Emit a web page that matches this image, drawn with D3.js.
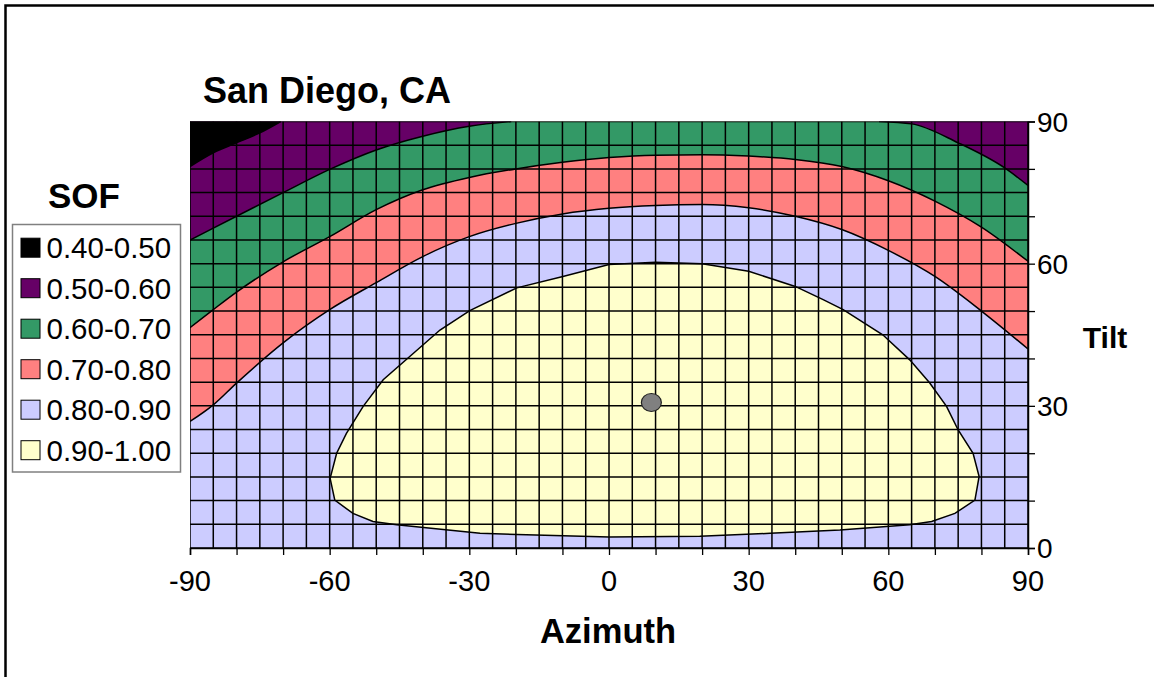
<!DOCTYPE html>
<html>
<head>
<meta charset="utf-8">
<script src="https://cdn.jsdelivr.net/npm/d3@7/dist/d3.min.js"></script>
<style>
  html, body { margin: 0; padding: 0; background: #fff; }
  svg { display: block; font-family: "Liberation Sans", Arial, sans-serif; }
</style>
</head>
<body>
<svg id="chart" width="1154" height="677"></svg>
<script>
// ---------- DATA ----------
const title = "San Diego, CA";
const legendTitle = "SOF";
const levels = ["0.40-0.50", "0.50-0.60", "0.60-0.70", "0.70-0.80", "0.80-0.90", "0.90-1.00"];
const levelColors = ["#000000", "#660066", "#339966", "#FF8080", "#CCCCFF", "#FFFFCC"];
const xTicks = [-90, -60, -30, 0, 30, 60, 90];
const yTicks = [0, 30, 60, 90];

// contour boundary SOF = 0.5 (black above)
const b05Az   = [-90, -85, -80, -75, -70.5];
const b05Tilt = [80.5, 83.4, 85.5, 87.6, 90];
// contour boundary SOF = 0.6 (purple above) – left piece and right piece
const b06LAz   = [-90, -80, -70, -60, -50, -40, -30, -21];
const b06LTilt = [65, 70, 75, 79.9, 84, 86.9, 89, 90];
const b06RAz   = [58, 65, 75, 85, 90];
const b06RTilt = [90, 89.5, 85.5, 80.2, 76.5];
// contour boundary SOF = 0.7 (green above)
const b07Az   = [-90, -85, -80, -70, -60, -50, -40, -30, -20, -10, 0, 10, 20, 30, 40, 50, 60, 70, 80, 90];
const b07Tilt = [46.5, 50.3, 54, 60.4, 65.7, 71.4, 75.6, 78.2, 80, 81.4, 82.4, 82.9, 83, 82.7, 82, 80.5, 77.5, 73.2, 67.7, 60.5];
// contour boundary SOF = 0.8 (red above)
const b08Az   = [-90, -85, -80, -70, -60, -50, -40, -30, -20, -10, 0, 10, 20, 30, 40, 50, 60, 70, 80, 90];
const b08Tilt = [26.7, 30.2, 34.8, 43.3, 50.3, 56, 61.5, 65.7, 68.5, 70.5, 71.7, 72.3, 72.5, 71.8, 70, 67.2, 62.8, 57.3, 50, 42];
// closed contour SOF = 0.9 (yellow inside)
const b09Az   = [-59.9, -58.5, -56.4, -52.8, -48.5, -42, -36.3, -29.9, -19.8, -9.9, 0, 10, 20, 30, 40, 46, 50.3, 58.8, 64.6, 68.9, 72.5, 75, 78.2, 79.5, 78.6, 74.3, 69.3, 64.6, 49.6, 34.6, 19.5, 0, -27.7, -45.6, -50.7, -55, -58.9];
const b09Tilt = [14.7, 20, 24.2, 29.9, 35.5, 41.1, 46, 50.1, 54.9, 57.3, 59.8, 60.3, 60, 58.4, 55.2, 52.4, 50.3, 45, 39.7, 34.8, 29.9, 24.9, 20, 15.1, 10.1, 7.3, 5.6, 4.9, 3.8, 3.1, 2.5, 2.3, 3.1, 4.9, 5.6, 7.3, 10.1];
// marked optimum point
const dotAz = [9.1];
const dotTilt = [30.7];

// ---------- LAYOUT ----------
const svg = d3.select("#chart");
const L = 190, R = 1028, T = 121.5, B = 548;
const x = d3.scaleLinear().domain([-90, 90]).range([L, R]);
const y = d3.scaleLinear().domain([0, 90]).range([B, T]);

// outer frame (only top & left visible in the reference)
svg.append("path").attr("d", `M5.5,700 L5.5,5.5 L1160,5.5`)
  .attr("fill", "none").attr("stroke", "#000").attr("stroke-width", 2.5);

svg.append("defs").append("clipPath").attr("id", "plotclip")
  .append("rect").attr("x", L).attr("y", T).attr("width", R - L).attr("height", B - T);

const plot = svg.append("g").attr("clip-path", "url(#plotclip)");

const zip = (a, b) => a.map((v, i) => [v, b[i]]);

// base: 0.80-0.90
plot.append("rect").attr("x", L).attr("y", T).attr("width", R - L).attr("height", B - T)
  .attr("fill", levelColors[4]);

const topArea = d3.area().x(d => x(d[0])).y0(y(90) - 2).y1(d => y(d[1])).curve(d3.curveMonotoneX);
const line = d3.line().x(d => x(d[0])).y(d => y(d[1])).curve(d3.curveMonotoneX);

const bands = [
  { pts: zip(b08Az, b08Tilt), color: levelColors[3] },
  { pts: zip(b07Az, b07Tilt), color: levelColors[2] },
  { pts: zip(b06LAz, b06LTilt), color: levelColors[1] },
  { pts: zip(b06RAz, b06RTilt), color: levelColors[1] },
  { pts: zip(b05Az, b05Tilt), color: levelColors[0] },
];
bands.forEach(b => {
  plot.append("path").attr("d", topArea(b.pts)).attr("fill", b.color);
});
// yellow closed region
const closedLine = d3.line().x(d => x(d[0])).y(d => y(d[1])).curve(d3.curveLinearClosed);
const yPts = zip(b09Az, b09Tilt);
plot.append("path").attr("d", closedLine(yPts)).attr("fill", levelColors[5]);

// grid (every 5 degrees)
const gx = d3.range(-90, 91, 5), gy = d3.range(0, 91, 5);
plot.selectAll("line.gv").data(gx).join("line")
  .attr("x1", d => x(d)).attr("x2", d => x(d)).attr("y1", T).attr("y2", B)
  .attr("stroke", "#000").attr("stroke-width", 1.5);
plot.selectAll("line.gh").data(gy).join("line")
  .attr("y1", d => y(d)).attr("y2", d => y(d)).attr("x1", L).attr("x2", R)
  .attr("stroke", "#000").attr("stroke-width", 1.5);

// contour lines
bands.forEach(b => {
  plot.append("path").attr("d", line(b.pts)).attr("fill", "none")
    .attr("stroke", "#000").attr("stroke-width", 1.5);
});
plot.append("path").attr("d", closedLine(yPts)).attr("fill", "none")
  .attr("stroke", "#000").attr("stroke-width", 1.5);

// bottom axis
const xAxis = d3.axisBottom(x).tickValues(d3.range(-90, 91, 10)).tickSize(7).tickFormat("");
const gxa = svg.append("g").attr("transform", `translate(0,${B})`).call(xAxis);
gxa.select(".domain").attr("stroke", "#000").attr("stroke-width", 1.5);
gxa.selectAll(".tick line").attr("stroke", "#000").attr("stroke-width", 1.3);
svg.selectAll("text.xl").data(xTicks).join("text")
  .attr("x", d => x(d)).attr("y", 591).attr("text-anchor", "middle")
  .attr("font-size", 29).attr("fill", "#000").text(d => d);

// right axis
const yAxis = d3.axisRight(y).tickValues(d3.range(0, 91, 10)).tickSize(7).tickFormat("");
const gya = svg.append("g").attr("transform", `translate(${R},0)`).call(yAxis);
gya.select(".domain").attr("stroke", "#000").attr("stroke-width", 1.5);
gya.selectAll(".tick line").attr("stroke", "#000").attr("stroke-width", 1.3);
svg.selectAll("text.yl").data(yTicks).join("text")
  .attr("x", 1037).attr("y", d => y(d)).attr("dy", "0.36em").attr("text-anchor", "start")
  .attr("font-size", 28).attr("fill", "#000").text(d => d);

// dot
svg.selectAll("ellipse.dot").data(zip(dotAz, dotTilt)).join("ellipse")
  .attr("cx", d => x(d[0])).attr("cy", d => y(d[1])).attr("rx", 10).attr("ry", 9)
  .attr("fill", "#808080").attr("stroke", "#222").attr("stroke-width", 1.2);

// titles
svg.append("text").attr("x", 203).attr("y", 103).attr("font-size", 36).attr("font-weight", "bold")
  .text(title);
svg.append("text").attr("x", 608).attr("y", 643).attr("text-anchor", "middle")
  .attr("font-size", 34.5).attr("font-weight", "bold").text("Azimuth");
svg.append("text").attr("x", 1105).attr("y", 348).attr("text-anchor", "middle")
  .attr("font-size", 30).attr("font-weight", "bold").text("Tilt");
svg.append("text").attr("x", 84).attr("y", 208).attr("text-anchor", "middle")
  .attr("font-size", 35).attr("font-weight", "bold").text(legendTitle);

// legend
svg.append("rect").attr("x", 12.5).attr("y", 224.5).attr("width", 168).attr("height", 247.5)
  .attr("fill", "#fff").attr("stroke", "#808080").attr("stroke-width", 1.5);
const lg = svg.selectAll("g.leg").data(levels).join("g")
  .attr("transform", (d, i) => `translate(0,${247.7 + i * 40.5})`);
lg.append("rect").attr("x", 21).attr("y", -9.5).attr("width", 19).attr("height", 19)
  .attr("fill", (d, i) => levelColors[i]).attr("stroke", "#000").attr("stroke-width", 1);
lg.append("text").attr("x", 46.5).attr("y", 0).attr("dy", "0.36em")
  .attr("font-size", 29.5).attr("fill", "#000").text(d => d);
</script>
</body>
</html>
